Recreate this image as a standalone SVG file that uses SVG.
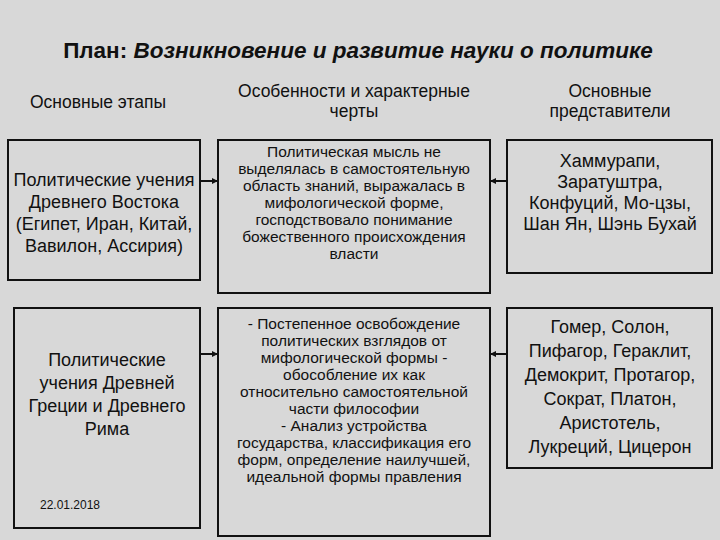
<svg xmlns="http://www.w3.org/2000/svg" width="720" height="540" viewBox="0 0 720 540">
<defs>
<style>
text{font-family:"Liberation Sans",Arial,sans-serif;fill:#111;text-anchor:middle}
.t{font-size:17.5px}
.r{font-size:18px}
.s{font-size:15.5px}
.box{fill:none;stroke:#111;stroke-width:2}
.c{stroke:#111;stroke-width:2;fill:none}
</style>
<marker id="a" markerWidth="6" markerHeight="6" refX="5" refY="3" orient="auto" markerUnits="userSpaceOnUse"><path d="M0,0L6,3L0,6z" fill="#111"/></marker>
</defs>
<rect width="720" height="540" fill="#d8d8d8"/>
<text x="358" y="58" style="font-size:22.5px;font-weight:bold"><tspan>План: </tspan><tspan font-style="italic">Возникновение и развитие науки о политике</tspan></text>
<g id="h1"><text class="t" x="98" y="108">Основные этапы</text></g>
<g id="h2"><text class="t" x="354" y="97">Особенности и характерные</text><text class="t" x="354" y="117">черты</text></g>
<g id="h3"><text class="t" x="610" y="97">Основные</text><text class="t" x="610" y="117">представители</text></g>
<g id="n1"><rect class="box" x="8" y="140" width="192" height="140"/>
<text class="r" x="104" y="186">Политические учения</text><text class="r" x="104" y="208">Древнего Востока</text><text class="r" x="104" y="230">(Египет, Иран, Китай,</text><text class="r" x="104" y="252">Вавилон, Ассирия)</text></g>
<g id="n2"><rect class="box" x="218" y="140" width="272" height="153"/>
<text class="s" x="354" y="157">Политическая мысль не</text><text class="s" x="354" y="174">выделялась в самостоятельную</text><text class="s" x="354" y="191">область знаний, выражалась в</text><text class="s" x="354" y="208">мифологической форме,</text><text class="s" x="354" y="225">господствовало понимание</text><text class="s" x="354" y="242">божественного происхождения</text><text class="s" x="354" y="259">власти</text></g>
<g id="n3"><rect class="box" x="507" y="140" width="205" height="133"/>
<text class="r" x="610" y="167">Хаммурапи,</text><text class="r" x="610" y="188">Заратуштра,</text><text class="r" x="610" y="209">Конфуций, Мо-цзы,</text><text class="r" x="610" y="230">Шан Ян, Шэнь Бухай</text></g>
<g id="n4"><rect class="box" x="14" y="308" width="186" height="220"/>
<text class="r" x="107" y="366">Политические</text><text class="r" x="107" y="389">учения Древней</text><text class="r" x="107" y="412">Греции и Древнего</text><text class="r" x="107" y="435">Рима</text></g>
<g id="n5"><rect class="box" x="218" y="308" width="272" height="228"/>
<text class="s" x="354" y="329">- Постепенное освобождение</text><text class="s" x="354" y="346">политических взглядов от</text><text class="s" x="354" y="363">мифологической формы -</text><text class="s" x="354" y="380">обособление их как</text><text class="s" x="354" y="397">относительно самостоятельной</text><text class="s" x="354" y="414">части философии</text><text class="s" x="354" y="431">- Анализ устройства</text><text class="s" x="354" y="448">государства, классификация его</text><text class="s" x="354" y="465">форм, определение наилучшей,</text><text class="s" x="354" y="482">идеальной формы правления</text></g>
<g id="n6"><rect class="box" x="507" y="308" width="205" height="160"/>
<text class="r" x="610" y="333">Гомер, Солон,</text><text class="r" x="610" y="357">Пифагор, Гераклит,</text><text class="r" x="610" y="381">Демокрит, Протагор,</text><text class="r" x="610" y="405">Сократ, Платон,</text><text class="r" x="610" y="429">Аристотель,</text><text class="r" x="610" y="453">Лукреций, Цицерон</text></g>
<g id="connectors">
<path class="c" d="M200,181H217" marker-end="url(#a)"/>
<path class="c" d="M507,181H491" marker-end="url(#a)"/>
<path class="c" d="M200,354H217" marker-end="url(#a)"/>
<path class="c" d="M507,354H491" marker-end="url(#a)"/>
</g>
<text x="70" y="509" style="font-size:12px">22.01.2018</text>
</svg>
